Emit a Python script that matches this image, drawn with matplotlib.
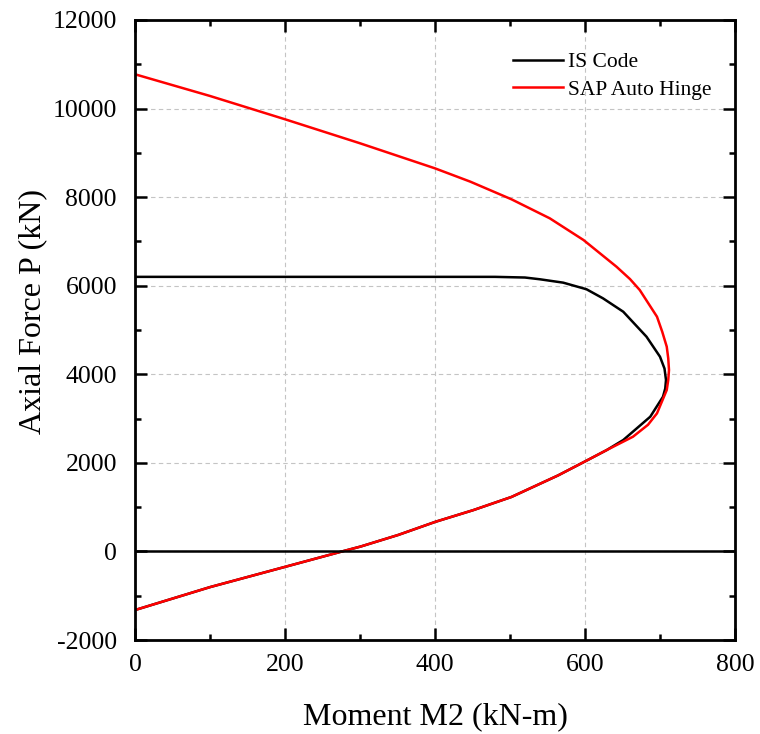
import matplotlib.pyplot as plt
from matplotlib.ticker import MultipleLocator

plt.rcParams['font.family'] = ['Liberation Serif', 'DejaVu Serif']
plt.rcParams['axes.unicode_minus'] = False

# IS Code interaction curve (moment kN-m, axial kN)
is_m = [0, 100, 193, 276, 301, 351, 401, 451, 502, 564, 602, 629, 651, 687, 704, 707, 708, 706,
        700, 682, 651, 624, 602, 571, 540, 520, 480, 0]
is_p = [-1323, -805, -380, 0, 112, 373, 672, 933, 1231, 1716, 2050, 2290, 2516, 3042, 3494, 3680,
        3871, 4130, 4397, 4849, 5413, 5715, 5920, 6069, 6145, 6185, 6200, 6200]

# SAP auto hinge curve
sap_m = [0, 100, 193, 276, 301, 351, 401, 451, 502, 564, 602, 629, 664, 684, 696, 709, 711, 712,
         711, 709, 703, 696, 673, 660, 642, 598, 553, 502, 447, 400, 300, 200, 100, 0]
sap_p = [-1323, -805, -380, 0, 112, 373, 672, 933, 1231, 1716, 2050, 2290, 2591, 2860, 3119, 3645,
         3870, 4097, 4360, 4623, 4960, 5300, 5903, 6150, 6429, 7032, 7522, 7951, 8350, 8650, 9216,
         9758, 10284, 10774]

fig = plt.figure(figsize=(7.6, 7.34), dpi=100)
ax = fig.add_axes([0.1776, 0.128, 0.7895, 0.8448])

ax.plot(is_m, is_p, color='black', lw=1.8, label='IS Code')
ax.plot(sap_m, sap_p, color='red', lw=1.8, label='SAP Auto Hinge')
ax.axhline(0, color='black', lw=1.8)

ax.set_xlim(0, 800)
ax.set_ylim(-2000, 12000)
ax.xaxis.set_major_locator(MultipleLocator(200))
ax.xaxis.set_minor_locator(MultipleLocator(100))
ax.yaxis.set_major_locator(MultipleLocator(2000))
ax.yaxis.set_minor_locator(MultipleLocator(1000))
ax.grid(True, which='major', color='#c4c4c4', lw=0.8, dashes=(4, 3))
ax.tick_params(which='both', direction='in', top=True, right=True, labelsize=18.5, width=1.8)
ax.tick_params(which='major', length=8.5)
ax.tick_params(which='minor', length=4.3)
ax.tick_params(axis='x', pad=10)
ax.tick_params(axis='y', pad=13)
for s in ax.spines.values():
    s.set_linewidth(2)

ax.set_xlabel('Moment M2 (kN-m)', fontsize=23, va='top')
ax.xaxis.set_label_coords(0.5, -0.1)
ax.set_ylabel('Axial Force P (kN)', fontsize=23)
ax.yaxis.set_label_coords(-0.147, 0.53)

ax.legend(loc='upper left', frameon=False, fontsize=15.5, handlelength=2.3, handletextpad=0.25,
          labelspacing=0.34, borderpad=0, borderaxespad=0, bbox_to_anchor=(0.63, 0.948))

fig.savefig('out.png', dpi=100)
